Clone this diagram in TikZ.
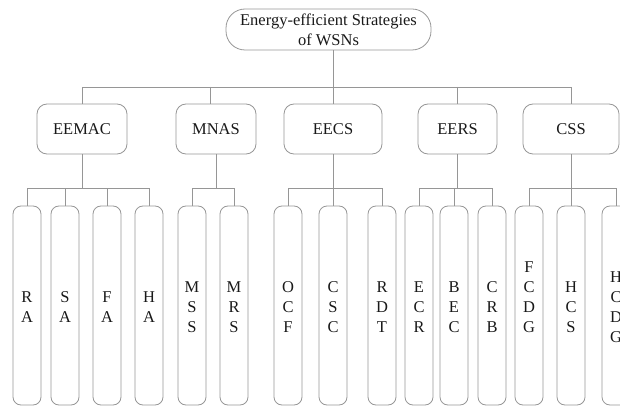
\documentclass[tikz,border=0pt]{standalone}
\usepackage{fontspec}
\setmainfont{Liberation Serif}
\begin{document}
\definecolor{wirecol}{RGB}{150,150,150}
\definecolor{inkcol}{RGB}{25,25,25}
\begin{tikzpicture}[x=1pt,y=-1pt,
  wire/.style={draw=wirecol,line width=0.8pt},
  box/.style={draw=wirecol,line width=0.8pt,inner sep=0pt,text=inkcol,
    font=\fontsize{16.5}{20}\selectfont},
  rootbox/.style={box,rounded corners=19pt,minimum width=205pt,minimum height=41pt,align=center},
  midbox/.style={box,rounded corners=10pt,minimum height=50pt},
  leafbox/.style={box,rounded corners=8pt,minimum width=28pt,minimum height=199pt},
  leaftext/.style={inner sep=0pt,text=inkcol,align=center,
    font=\fontsize{16.5}{20}\selectfont}]
\useasboundingbox (0,0) rectangle (620,406);
\clip (0,0) rectangle (620,406);

% root
\node[rootbox] (root) at (328.5,29.5) {Energy-efficient Strategies\\of WSNs};

% second level
\node[midbox,minimum width=90pt] (eemac) at (82,129)   {EEMAC};
\node[midbox,minimum width=80pt] (mnas)  at (216,129)  {MNAS};
\node[midbox,minimum width=98pt] (eecs)  at (333,129)  {EECS};
\node[midbox,minimum width=79pt] (eers)  at (457.5,129){EERS};
\node[midbox,minimum width=96pt] (css)   at (571,129)  {CSS};

% leaves: name / x-centre / letters
\foreach \n/\x/\t in {ra/27/{R\\A}, sa/65/{S\\A}, fa/107/{F\\A}, ha/149/{H\\A},
                      mss/192/{M\\S\\S}, mrs/234/{M\\R\\S},
                      ocf/288/{O\\C\\F}, csc/333/{C\\S\\C}, rdt/382/{R\\D\\T},
                      ecr/419/{E\\C\\R}, bec/454/{B\\E\\C}, crb/492/{C\\R\\B},
                      hcs/571/{H\\C\\S}, hcdg/616/{H\\C\\D\\G}}{
  \node[leafbox] (\n) at (\x,305.5) {};
  \node[leaftext] (\n-t) at ([yshift=-1.5pt]\n.center) {\t};
}
\node[leafbox] (fcdg) at (529,305.5) {};
\node[leaftext] (fcdg-t) at ([yshift=8.5pt]fcdg.center) {F\\C\\D\\G};

% root to second level
\coordinate (busA) at (0,87);
\draw[wire] (eecs.north |- root.south) -- (eecs.north);
\draw[wire] (eemac.north) |- (css.north |- busA) -- (css.north);
\draw[wire] ([xshift=-6pt]mnas.north |- busA) -- ([xshift=-6pt]mnas.north);
\draw[wire] (eers.north |- busA) -- (eers.north);

% second level to leaves
\coordinate (busB) at (0,188);
\draw[wire] (eemac.south) -- (eemac.south |- busB);
\draw[wire] (ra.north) |- (ha.north |- busB) -- (ha.north);
\draw[wire] (sa.north) -- (sa.north |- busB);
\draw[wire] (fa.north) -- (fa.north |- busB);

\draw[wire] (mnas.south) -- (mnas.south |- busB);
\draw[wire] (mss.north) |- (mrs.north |- busB) -- (mrs.north);

\draw[wire] (ocf.north) |- (rdt.north |- busB) -- (rdt.north);
\draw[wire] (eecs.south) -- (csc.north);

\draw[wire] (eers.south) -- (eers.south |- busB);
\draw[wire] (ecr.north) |- (crb.north |- busB) -- (crb.north);
\draw[wire] (bec.north) -- (bec.north |- busB);

\draw[wire] (css.south) -- (hcs.north);
\draw[wire] (fcdg.north) |- (hcdg.north |- busB) -- (hcdg.north);
\end{tikzpicture}
\end{document}
